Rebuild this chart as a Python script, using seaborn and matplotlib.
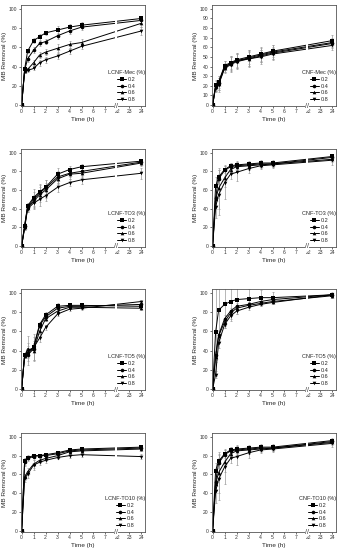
import matplotlib
matplotlib.use("Agg")
import matplotlib.pyplot as plt
import numpy as np
import pandas as pd
import seaborn as sns

# sampling times (h) and dosages shared by all panels
TIME_H = [0, 0.25, 0.5, 1, 1.5, 2, 3, 4, 5, 24]
DOSES = ["0.2", "0.4", "0.6", "0.8"]
TICK_HOURS = [0, 1, 2, 3, 4, 5, 6, 7, 22, 23, 24]

# MB removal (%) per dosage
LCNF_MEC = [
    [0, 37, 56, 67, 71, 75, 78, 81, 83, 90],
    [0, 36, 48, 57, 64, 66, 72, 77, 81, 88],
    [0, 35, 37, 44, 52, 55, 59, 63, 65, 85],
    [0, 35, 36, 38, 44, 47, 51, 56, 61, 77],
]
LCNF_MEC_ERR = [
    [0, 2, 2, 3, 3, 2, 4, 3, 3, 3],
    [0, 2, 3, 3, 3, 3, 3, 3, 3, 3],
    [0, 2, 2, 3, 3, 3, 4, 4, 4, 4],
    [0, 2, 2, 2, 3, 3, 3, 3, 3, 4],
]
CNF_MEC = [
    [0, 21, 24, 41, 44, 47, 50, 53, 56, 67],
    [0, 20, 23, 40, 43, 46, 49, 52, 55, 65],
    [0, 19, 22, 39, 43, 46, 48, 51, 54, 64],
    [0, 18, 21, 38, 42, 45, 48, 50, 53, 62],
]
CNF_MEC_ERR = [
    [0, 5, 6, 5, 7, 7, 7, 7, 6, 6],
    [0, 5, 7, 6, 8, 8, 8, 7, 7, 5],
    [0, 4, 6, 5, 7, 7, 7, 6, 6, 5],
    [0, 4, 7, 5, 8, 8, 8, 7, 6, 5],
]
LCNF_TO3 = [
    [0, 22, 43, 52, 58, 63, 77, 82, 85, 91],
    [0, 21, 42, 50, 57, 62, 74, 78, 80, 90],
    [0, 20, 41, 48, 55, 60, 72, 77, 78, 89],
    [0, 19, 40, 46, 50, 54, 63, 68, 71, 78],
]
LCNF_TO3_ERR = [
    [0, 3, 3, 9, 8, 8, 7, 4, 3, 2],
    [0, 3, 4, 8, 8, 9, 6, 4, 4, 3],
    [0, 3, 4, 7, 8, 8, 6, 5, 4, 3],
    [0, 2, 3, 6, 7, 6, 5, 4, 4, 6],
]
CNF_TO3 = [
    [0, 64, 74, 82, 86, 87, 88, 89, 89, 96],
    [0, 51, 72, 81, 85, 86, 87, 88, 88, 95],
    [0, 50, 62, 73, 82, 85, 86, 87, 88, 93],
    [0, 42, 55, 68, 77, 79, 83, 86, 87, 92],
]
CNF_TO3_ERR = [
    [0, 10, 7, 4, 3, 3, 3, 3, 3, 3],
    [0, 8, 10, 6, 4, 4, 3, 3, 3, 3],
    [0, 10, 22, 10, 5, 6, 4, 3, 3, 3],
    [0, 12, 22, 18, 5, 9, 5, 3, 3, 5],
]
LCNF_TO5 = [
    [0, 35, 36, 44, 67, 77, 86, 87, 87, 86],
    [0, 35, 35, 42, 66, 75, 84, 86, 86, 88],
    [0, 34, 42, 40, 60, 73, 81, 85, 85, 84],
    [0, 34, 40, 43, 53, 64, 78, 83, 84, 91],
]
LCNF_TO5_ERR = [
    [0, 2, 3, 4, 3, 3, 3, 2, 2, 3],
    [0, 2, 10, 12, 3, 3, 2, 2, 2, 2],
    [0, 2, 13, 10, 3, 2, 2, 2, 2, 2],
    [0, 2, 8, 14, 4, 3, 2, 2, 2, 2],
]
CNF_TO5 = [
    [0, 59, 82, 88, 91, 93, 94, 95, 95, 98],
    [0, 35, 56, 73, 81, 86, 88, 91, 93, 98],
    [0, 33, 55, 70, 79, 84, 87, 89, 91, 97],
    [0, 15, 48, 67, 76, 81, 85, 88, 90, 98],
]
CNF_TO5_ERR = [
    [0, 45, 30, 25, 20, 15, 10, 8, 6, 3],
    [0, 5, 5, 4, 3, 3, 3, 3, 2, 2],
    [0, 5, 5, 4, 3, 3, 3, 3, 2, 2],
    [0, 4, 5, 4, 3, 3, 3, 2, 2, 2],
]
LCNF_TO10 = [
    [0, 74, 78, 80, 80, 81, 83, 86, 87, 89],
    [0, 73, 77, 79, 80, 80, 82, 85, 86, 88],
    [0, 57, 63, 71, 75, 77, 80, 84, 85, 87],
    [0, 56, 60, 70, 73, 75, 78, 80, 81, 79],
]
LCNF_TO10_ERR = [
    [0, 4, 3, 2, 2, 2, 2, 2, 2, 2],
    [0, 4, 3, 2, 2, 2, 2, 2, 2, 2],
    [0, 3, 4, 4, 3, 3, 2, 2, 2, 2],
    [0, 4, 4, 5, 3, 3, 2, 2, 2, 3],
]
CNF_TO10 = [
    [0, 64, 74, 82, 86, 87, 88, 89, 89, 96],
    [0, 52, 72, 81, 85, 86, 87, 88, 88, 95],
    [0, 50, 62, 73, 82, 85, 86, 87, 88, 94],
    [0, 42, 55, 68, 77, 79, 83, 86, 87, 93],
]
CNF_TO10_ERR = [
    [0, 8, 7, 4, 3, 3, 3, 3, 3, 3],
    [0, 8, 10, 6, 4, 4, 3, 3, 3, 3],
    [0, 10, 22, 10, 5, 6, 4, 3, 3, 3],
    [0, 12, 22, 18, 5, 9, 5, 3, 3, 4],
]

PANELS = [
    ("LCNF-Mec (%)", LCNF_MEC, LCNF_MEC_ERR, 20),
    ("CNF-Mec (%)", CNF_MEC, CNF_MEC_ERR, 10),
    ("LCNF-TO3 (%)", LCNF_TO3, LCNF_TO3_ERR, 20),
    ("CNF-TO3 (%)", CNF_TO3, CNF_TO3_ERR, 20),
    ("LCNF-TO5 (%)", LCNF_TO5, LCNF_TO5_ERR, 20),
    ("CNF-TO5 (%)", CNF_TO5, CNF_TO5_ERR, 20),
    ("LCNF-TO10 (%)", LCNF_TO10, LCNF_TO10_ERR, 20),
    ("CNF-TO10 (%)", CNF_TO10, CNF_TO10_ERR, 20),
]

MARKERS = {"0.2": "s", "0.4": "o", "0.6": "^", "0.8": "v"}
GAP_HOURS = 14  # 22 h is drawn right after 7 h


def to_axis(hours):
    """Squeeze the 8-22 h stretch out of the time axis (broken axis)."""
    hours = np.asarray(hours, dtype=float)
    return np.where(hours > 8, hours - GAP_HOURS, hours)


sns.set_style("ticks")
plt.rcParams["font.family"] = ["Liberation Sans", "DejaVu Sans"]

fig = plt.figure(figsize=(3.42, 5.50), dpi=100)

col_left = [21, 212]
col_width = 124
row_span = [(5, 106), (149, 247), (289, 390), (433, 532)]

for i, (title, series, errors, ystep) in enumerate(PANELS):
    row, col = divmod(i, 2)
    top, bottom = row_span[row]
    ax = fig.add_axes([
        col_left[col] / 342,
        1 - bottom / 550,
        col_width / 342,
        (bottom - top) / 550,
    ])

    frames = []
    for dose, values in zip(DOSES, series):
        frames.append(pd.DataFrame({"x": to_axis(TIME_H), "removal": values, "dose": dose}))
    df = pd.concat(frames, ignore_index=True)

    for dose, values, err in zip(DOSES, series, errors):
        ax.errorbar(to_axis(TIME_H), values, yerr=err, fmt="none", ecolor="#9a9a9a",
                    elinewidth=0.5, capsize=1.0, capthick=0.5, zorder=1.5)

    sns.lineplot(data=df, x="x", y="removal", hue="dose", style="dose",
                 markers=MARKERS, dashes=False, palette=["black"] * 4,
                 markersize=2.6, markeredgewidth=0, linewidth=0.7,
                 ax=ax, legend="full", zorder=2)

    # gap in the lines at the axis break
    ax.axvspan(7.78, 7.98, color="white", zorder=2.2, lw=0)

    ax.set_xlim(-0.05, 10.3)
    ax.set_ylim(-1, 104)
    ax.set_xticks(to_axis(TICK_HOURS))
    ax.set_xticklabels([str(h) for h in TICK_HOURS])
    ax.set_yticks(np.arange(0, 101, ystep))
    ax.tick_params(labelsize=3.6, length=1.5, width=0.5, pad=1, colors="#333333")
    for spine in ax.spines.values():
        spine.set_linewidth(0.6)
        spine.set_color("#555555")
    ax.set_xlabel("Time (h)", fontsize=4.6, labelpad=1.5)
    ax.set_ylabel("MB Removal (%)", fontsize=4.6, labelpad=1.5)

    ax.text(7.88, 0, "//", transform=ax.get_xaxis_transform(), ha="center",
            va="center", fontsize=5, color="#333333", zorder=5,
            bbox=dict(facecolor="white", edgecolor="none", pad=0.2))

    handles, labels = ax.get_legend_handles_labels()
    ax.legend(handles, labels, title=title, loc="lower right",
              bbox_to_anchor=(1.01, 0.03), frameon=False, fontsize=4.0,
              title_fontsize=4.0, handlelength=1.6, handletextpad=0.3,
              labelspacing=0.3, borderpad=0.1, borderaxespad=0.1)

fig.savefig("out.png", dpi=100, facecolor="white")
